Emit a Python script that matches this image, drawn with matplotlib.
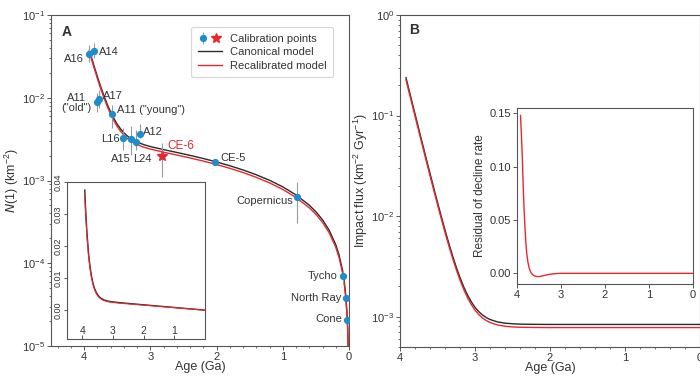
import matplotlib
matplotlib.use('Agg')
import matplotlib.pyplot as plt
import numpy as np
from matplotlib.ticker import MultipleLocator, FormatStrFormatter, FixedLocator
from matplotlib.legend_handler import HandlerTuple
from matplotlib.lines import Line2D

plt.rcParams['font.family'] = ['Liberation Sans', 'DejaVu Sans']
plt.rcParams['mathtext.default'] = 'regular'

# model curves, N(1) vs age
age_curve = [3.92, 3.9, 3.85, 3.8, 3.75, 3.7, 3.65, 3.6, 3.55, 3.5,
             3.45, 3.4, 3.35, 3.3, 3.2, 3.1, 3.0, 2.8, 2.6, 2.4,
             2.2, 2.0, 1.8, 1.6, 1.4, 1.2, 1.0, 0.8, 0.6, 0.5,
             0.4, 0.3, 0.2, 0.15, 0.1, 0.07, 0.05, 0.03, 0.02, 0.01, 0.005]
N_canon = [0.03747, 0.0330, 0.02428, 0.01806, 0.01366, 0.01054, 0.00832, 0.00674, 0.00561, 0.00479,
           0.00421, 0.00378, 0.00347, 0.00323, 0.002915, 0.002714, 0.002572, 0.002361, 0.002183, 0.002012,
           0.001844, 0.001676, 0.001508, 0.001341, 0.001173, 0.001006, 0.000838, 0.00067, 0.000503, 0.000419,
           0.000335, 0.000251, 0.000168, 0.000126, 8.38e-5, 5.87e-5, 4.19e-5, 2.51e-5, 1.68e-5, 8.4e-6, 4.2e-6]
N_recal = [0.03553, 0.03129, 0.0230, 0.0171, 0.01292, 0.009957, 0.007847, 0.006344, 0.005269, 0.004498,
           0.003941, 0.003536, 0.003238, 0.003016, 0.002717, 0.002529, 0.002395, 0.002198, 0.002031, 0.001873,
           0.001716, 0.00156, 0.001404, 0.001248, 0.001092, 0.000936, 0.00078, 0.000624, 0.000468, 0.00039,
           0.000312, 0.000234, 0.000156, 0.000117, 7.8e-5, 5.46e-5, 3.9e-5, 2.34e-5, 1.56e-5, 7.8e-6, 3.9e-6]

# impact flux (panel B)
age_flux = [3.92, 3.9, 3.85, 3.8, 3.75, 3.7, 3.65, 3.6, 3.55, 3.5,
            3.45, 3.4, 3.35, 3.3, 3.25, 3.2, 3.15, 3.1, 3.05, 3.0,
            2.95, 2.9, 2.85, 2.8, 2.7, 2.6, 2.5, 2.4, 2.2, 2.0, 1.0, 0.0]
F_canon = [0.2377, 0.2069, 0.1467, 0.1040, 0.07374, 0.05242, 0.03731, 0.02663, 0.01908, 0.01373,
           0.00996, 0.00729, 0.0054, 0.00406, 0.003118, 0.002453, 0.001978, 0.001645, 0.001408, 0.001241,
           0.001123, 0.00104, 0.000981, 0.000939, 0.000888, 0.000863, 0.000851, 0.000844, 0.00084, 0.000838,
           0.000838, 0.000838]
F_recal = [0.2258, 0.1966, 0.1394, 0.09874, 0.07004, 0.04978, 0.03543, 0.02528, 0.01811, 0.01304,
           0.00944, 0.00691, 0.00511, 0.00384, 0.002946, 0.002314, 0.001863, 0.001547, 0.001322, 0.001163,
           0.001051, 0.000972, 0.000916, 0.000876, 0.000828, 0.000804, 0.000792, 0.000786, 0.000782, 0.00078,
           0.00078, 0.00078]

# residual of decline rate (inset B)
age_resid = [3.92, 3.9, 3.88, 3.86, 3.84, 3.82, 3.8, 3.78, 3.75, 3.72, 3.68, 3.64, 3.6,
             3.55, 3.5, 3.45, 3.4, 3.3, 3.2, 3.1, 3.0, 2.5, 2.0, 1.0, 0.0]
resid = [0.148, 0.13, 0.11, 0.083, 0.061, 0.044, 0.03, 0.019, 0.01, 0.0045, 0.0005, -0.0015, -0.0025,
         -0.003, -0.003, -0.0027, -0.0022, -0.0012, -0.0006, -0.0002, 0.0, 0.0, 0.0, 0.0, 0.0]

# calibration points
cal_names = ['A16', 'A14', 'A17', 'A11\n("old")', 'A11 ("young")', 'L16', 'A15', 'L24', 'A12',
             'CE-5', 'Copernicus', 'Tycho', 'North Ray', 'Cone']
cal_age = [3.92, 3.85, 3.77, 3.81, 3.58, 3.41, 3.29, 3.22, 3.15, 2.03, 0.79, 0.09, 0.045, 0.027]
cal_N = [0.0338, 0.0367, 0.00966, 0.0089, 0.0063, 0.00329, 0.00318, 0.00295, 0.00361,
         0.00168, 0.00063, 7.0e-5, 3.84e-5, 2.06e-5]
cal_lo = [0.027, 0.0302, 0.0075, 0.0067, 0.0043, 0.00234, 0.00203, 0.00234, 0.00327,
          0.00162, 0.000306, 5.8e-5, 3.6e-5, 1.95e-5]
cal_hi = [0.0434, 0.0459, 0.0124, 0.0114, 0.0082, 0.0043, 0.0045, 0.0041, 0.0048,
          0.00174, 0.00096, 8.3e-5, 4.1e-5, 2.2e-5]
ce6_age = 2.83
ce6_N = 0.00199
ce6_lo = 0.0011
ce6_hi = 0.00284

# label placement (offset in points, alignment)
lab_off = [(-4.3, -3.6, 'right'), (3.6, -1.0, 'left'), (2.9, 2.4, 'left'), (-14.4, -0.7, 'center'),
           (3.6, 3.0, 'left'), (-2.2, -0.7, 'right'), (-7.2, -14.4, 'center'), (5.0, -12.2, 'center'),
           (2.2, 1.6, 'left'), (4.3, 2.9, 'left'), (-2.9, -2.9, 'right'), (-3.6, 0, 'right'),
           (-3.2, 0, 'right'), (-3.6, 0.7, 'right')]

blue = '#1f8ccc'
red = '#e8282d'
blk = '#2a2a2a'
gry = '#9a9a9a'
txt = '#333333'

fig = plt.figure(figsize=(7, 3.77), dpi=100)
axA = fig.add_axes([51/700, 31/377, 298/700, 331/377])
axB = fig.add_axes([400/700, 30/377, 300/700, 332/377])
insA = fig.add_axes([67/700, 38/377, 138/700, 157/377])
insB = fig.add_axes([517/700, 93/377, 176/700, 176/377])

for ax in [axA, axB, insA, insB]:
    for s in ax.spines.values():
        s.set_linewidth(0.8)
        s.set_color('#555555')
    ax.tick_params(which='both', direction='out', colors='#555555', labelcolor=txt, labelsize=8, pad=1.5)
    ax.tick_params(which='major', length=2.6, width=0.7)
    ax.tick_params(which='minor', length=1.6, width=0.6)

# ---- panel A
axA.plot(age_curve, N_canon, color=blk, lw=1.0, zorder=3)
axA.plot(age_curve, N_recal, color=red, lw=1.0, zorder=3)
N = np.array(cal_N)
yerr = [N - np.array(cal_lo), np.array(cal_hi) - N]
eb = axA.errorbar(cal_age, cal_N, yerr=yerr, fmt='o', color=blue, ms=4.2, mec=blue,
                  ecolor=gry, elinewidth=0.8, capsize=0, zorder=4)
axA.errorbar([ce6_age], [ce6_N], yerr=[[ce6_N - ce6_lo], [ce6_hi - ce6_N]], fmt='*', color=red,
             ms=7, ecolor=gry, elinewidth=0.8, capsize=0, zorder=4)
for name, a, n, (dx, dy, ha) in zip(cal_names, cal_age, cal_N, lab_off):
    axA.annotate(name, (a, n), xytext=(dx, dy), textcoords='offset points', ha=ha, va='center',
                 multialignment='center', fontsize=8, color=txt, linespacing=1.05)
axA.annotate('CE-6', (ce6_age, ce6_N), xytext=(4.3, 7.2), textcoords='offset points', ha='left',
             va='center', fontsize=8.5, color=red)
axA.set_yscale('log')
axA.set_ylim(1e-5, 1e-1)
axA.set_xlim(4.5, 0)
axA.xaxis.set_major_locator(MultipleLocator(1))
axA.xaxis.set_minor_locator(MultipleLocator(0.2))
axA.set_xlabel('Age (Ga)', fontsize=9, color=txt, labelpad=-0.5)
axA.set_ylabel(r'$\mathit{N}$(1) (km$^{-2}$)', fontsize=9, color=txt, labelpad=1)
axA.text(0.037, 0.95, 'A', transform=axA.transAxes, fontsize=10, fontweight='bold', color=txt,
         va='center')

star_h = Line2D([], [], marker='*', color=red, ls='none', ms=7)
blk_h = Line2D([], [], color=blk, lw=1.0)
red_h = Line2D([], [], color=red, lw=1.0)
leg = axA.legend([(eb, star_h), blk_h, red_h],
                 ['Calibration points', 'Canonical model', 'Recalibrated model'],
                 handler_map={tuple: HandlerTuple(ndivide=None, pad=0.2)},
                 loc='upper right', bbox_to_anchor=(0.965, 0.98), fontsize=8,
                 frameon=True, fancybox=True, edgecolor='#cccccc', handlelength=2.2,
                 handletextpad=0.7, borderpad=0.6, labelspacing=0.3)
leg.get_frame().set_linewidth(0.8)
for t in leg.get_texts():
    t.set_color(txt)

# ---- inset A (linear)
insA.plot(age_curve, N_canon, color=blk, lw=1.0)
insA.plot(age_curve, N_recal, color=red, lw=0.8)
insA.set_xlim(4.5, 0)
insA.set_ylim(-0.009, 0.04)
insA.xaxis.set_major_locator(FixedLocator([4, 3, 2, 1]))
insA.yaxis.set_major_locator(FixedLocator([0.0, 0.01, 0.02, 0.03, 0.04]))
insA.yaxis.set_major_formatter(FormatStrFormatter('%.2f'))
insA.tick_params(axis='x', direction='in', pad=-9, labelsize=7.5)
insA.tick_params(axis='y', labelrotation=90, pad=1, labelsize=6.5, length=2)
for lab in insA.get_yticklabels():
    lab.set_va('center')

# ---- panel B
axB.plot(age_flux, F_canon, color=blk, lw=1.0)
axB.plot(age_flux, F_recal, color=red, lw=1.0)
axB.set_yscale('log')
axB.set_ylim(5e-4, 1)
axB.set_xlim(4, 0)
axB.xaxis.set_major_locator(MultipleLocator(1))
axB.xaxis.set_minor_locator(MultipleLocator(0.2))
axB.set_xlabel('Age (Ga)', fontsize=9, color=txt, labelpad=-0.5)
axB.set_ylabel(r'Impact flux (km$^{-2}$ Gyr$^{-1}$)', fontsize=9, color=txt, labelpad=1)
axB.text(0.03, 0.955, 'B', transform=axB.transAxes, fontsize=10, fontweight='bold', color=txt,
         va='center')

# ---- inset B
insB.plot(age_resid, resid, color=red, lw=1.0)
insB.set_xlim(4, 0)
insB.set_ylim(-0.01, 0.155)
insB.xaxis.set_major_locator(MultipleLocator(1))
insB.yaxis.set_major_locator(MultipleLocator(0.05))
insB.yaxis.set_major_formatter(FormatStrFormatter('%.2f'))
insB.tick_params(labelsize=8)
insB.set_ylabel('Residual of decline rate', fontsize=8.5, color=txt, labelpad=3)

fig.savefig('out.png', dpi=100)
